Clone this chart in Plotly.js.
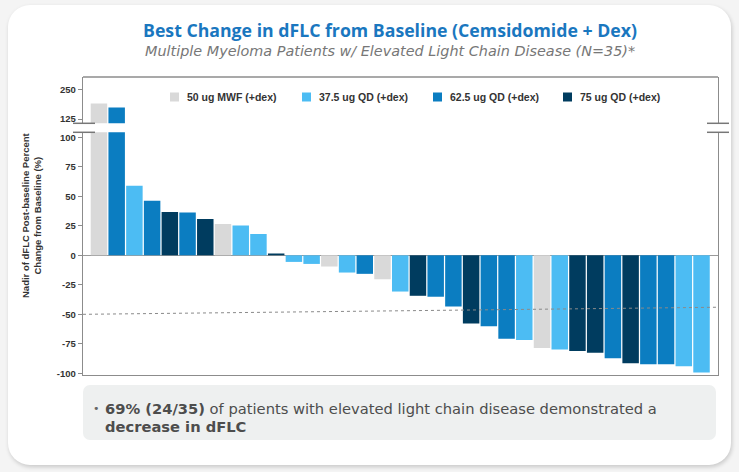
<!DOCTYPE html>
<html>
<head>
<meta charset="utf-8">
<script src="https://cdn.plot.ly/plotly-3.0.1.min.js"></script>
<style>
  html, body { margin: 0; padding: 0; }
  body { width: 739px; height: 472px; background: #f4f4f4; position: relative; overflow: hidden; font-family: "DejaVu Sans", sans-serif; }
  #card { position: absolute; left: 8px; top: 5px; width: 723px; height: 460px; background: #ffffff; border-radius: 22px; box-shadow: 1px 2px 4px rgba(0,0,0,0.18); }
  #note { position: absolute; left: 83px; top: 385px; width: 633px; height: 55px; background: #eef0f0; border-radius: 7px; }
  #note p { margin: 0; position: absolute; left: 22px; top: 15px; width: 605px; font-size: 14.7px; line-height: 17.5px; color: #4d4d4d; white-space: nowrap; }
  #note .dot { position: absolute; left: 10px; top: 15px; font-size: 11px; color: #666; line-height: 17.5px; }
  #chart { position: absolute; left: 0; top: 0; width: 739px; height: 472px; }
</style>
</head>
<body>
<div id="card"></div>
<div id="note"><span class="dot">•</span><p><b>69% (24/35)</b> of patients with elevated light chain disease demonstrated a<br><b>decrease in dFLC</b></p></div>
<div id="chart"></div>
<script>
// Best change in dFLC per patient (%), sorted from largest increase to largest decrease
const changePct = [191, 174, 58.9, 46.2, 36.7, 36.3, 30.7, 26.5, 25.3, 18.0, 1.5,
  -5.6, -7.3, -9.5, -14.6, -15.7, -20.3, -30.7, -34.3, -35.1, -43.3, -57.7, -60.0,
  -70.6, -71.8, -78.5, -79.9, -81.1, -82.5, -87.2, -91.5, -92.3, -92.3, -94.0, -99.3];
// Dose cohort of each patient (index into doseGroups)
const cohort = [0, 2, 1, 2, 3, 2, 3, 0, 1, 1, 3,
  1, 1, 0, 1, 2, 0, 1, 3, 2, 2, 3, 2,
  2, 1, 0, 1, 3, 3, 2, 3, 2, 2, 1, 1];
const doseGroups = ["50 ug MWF (+dex)", "37.5 ug QD (+dex)", "62.5 ug QD (+dex)", "75 ug QD (+dex)"];
const groupColors = ["#d9d9d9", "#4cbcf3", "#0b7dc1", "#003c5f"];
// Tick labels for the two segments of the broken axis
const lowerTicks = [-100, -75, -50, -25, 0, 25, 50, 75, 100];
const upperTicks = [125, 250];
// -50% reference line (start, end)
const thresholdLine = [-50, -44];

const W = 739, H = 472;
const M = { l: 83, r: 21, t: 77, b: 97 };
const pw = W - M.l - M.r, ph = H - M.t - M.b;
const px = x => (x - M.l) / pw;          // page x -> paper x
const py = y => (H - M.b - y) / ph;      // page y -> paper y

const patientNo = changePct.map((_, i) => i + 1);
const traces = [];
doseGroups.forEach((name, g) => {
  const xs = [], ys = [];
  changePct.forEach((v, i) => { if (cohort[i] === g) { xs.push(patientNo[i]); ys.push(v); } });
  ['y', 'y2'].forEach(ax => {
    traces.push({
      type: 'bar', x: xs, y: ys, name: name, yaxis: ax, xaxis: 'x', width: 0.93,
      marker: { color: groupColors[g], line: { width: 0 } },
      showlegend: false, hoverinfo: 'x+y'
    });
  });
});

const gray = '#8c8c8c';
const tickFont = { family: 'Liberation Sans, Arial, sans-serif', size: 9.5, color: '#333', weight: 'bold' };
const yBreakLow = py(132.3), yBreakHigh = py(123.3);

const shapes = [
  // top border of the frame
  { type: 'line', xref: 'paper', yref: 'paper', x0: 0, x1: 1, y0: 1, y1: 1, line: { color: gray, width: 1.3 } },
  // -50% reference line
  { type: 'line', xref: 'paper', yref: 'y', x0: 0, x1: 1, y0: thresholdLine[0], y1: thresholdLine[1], line: { color: '#8a8a8a', width: 1, dash: 'dot' } }
];
// axis break marks on both sides
[[px(73), px(95)], [px(707), px(729)]].forEach(([a, b]) => {
  [yBreakLow, yBreakHigh].forEach(yy => {
    shapes.push({ type: 'line', xref: 'paper', yref: 'paper', x0: a, x1: b, y0: yy, y1: yy, line: { color: '#777', width: 1.5 } });
  });
});

// legend swatches and labels
const legendX = [170, 302, 433, 563];
const legendY = py(97);
const annotations = [];
doseGroups.forEach((name, g) => {
  const x0 = legendX[g];
  shapes.push({ type: 'rect', xref: 'paper', yref: 'paper', x0: px(x0), x1: px(x0 + 9), y0: legendY - 4.5 / ph, y1: legendY + 4.5 / ph, fillcolor: groupColors[g], line: { width: 0 } });
  annotations.push({ xref: 'paper', yref: 'paper', x: px(x0 + 15), y: legendY, xanchor: 'left', yanchor: 'middle', showarrow: false,
    text: '<b>' + name + '</b>', font: { family: 'Liberation Sans, Arial, sans-serif', size: 10.5, color: '#333' } });
});

// titles
annotations.push({ xref: 'paper', yref: 'paper', x: px(390), y: py(30), xanchor: 'center', yanchor: 'middle', showarrow: false,
  text: '<b>Best Change in dFLC from Baseline (Cemsidomide + Dex)</b>', font: { family: 'Open Sans, sans-serif', size: 17.7, color: '#1a77bf' } });
annotations.push({ xref: 'paper', yref: 'paper', x: px(390), y: py(51), xanchor: 'center', yanchor: 'middle', showarrow: false,
  text: '<i>Multiple Myeloma Patients w/ Elevated Light Chain Disease (N=35)*</i>', font: { family: 'DejaVu Sans, sans-serif', size: 14.4, color: '#777' } });
// y-axis title
annotations.push({ xref: 'paper', yref: 'paper', x: px(31), y: py(215), xanchor: 'center', yanchor: 'middle', showarrow: false, textangle: -90,
  text: '<b>Nadir of dFLC Post-baseline Percent<br>Change from Baseline (%)</b>', font: { family: 'Liberation Sans, Arial, sans-serif', size: 9.5, color: '#333' } });

const layout = {
  width: W, height: H,
  margin: M,
  paper_bgcolor: 'rgba(0,0,0,0)', plot_bgcolor: 'rgba(0,0,0,0)',
  barmode: 'overlay',
  showlegend: false,
  xaxis: { range: [0.1, 35.93], showticklabels: false, ticks: '', showgrid: false, zeroline: false,
    showline: true, linecolor: gray, linewidth: 1.3, anchor: 'y' },
  yaxis: { domain: [0, yBreakLow], range: [-101.4, 104.2], tickvals: lowerTicks, ticktext: lowerTicks.map(String),
    ticks: 'outside', ticklen: 4, tickcolor: gray, tickfont: tickFont, showgrid: false,
    zeroline: true, zerolinecolor: '#9a9a9a', zerolinewidth: 1.5,
    showline: true, linecolor: gray, linewidth: 1.3, mirror: true, anchor: 'x' },
  yaxis2: { domain: [yBreakHigh, 1], range: [107, 303], tickvals: upperTicks, ticktext: upperTicks.map(String),
    ticks: 'outside', ticklen: 4, tickcolor: gray, tickfont: tickFont, showgrid: false, zeroline: false,
    showline: true, linecolor: gray, linewidth: 1.3, mirror: true, anchor: 'x' },
  shapes: shapes,
  annotations: annotations
};

Plotly.newPlot('chart', traces, layout, { displayModeBar: false, staticPlot: true });
</script>
</body>
</html>
